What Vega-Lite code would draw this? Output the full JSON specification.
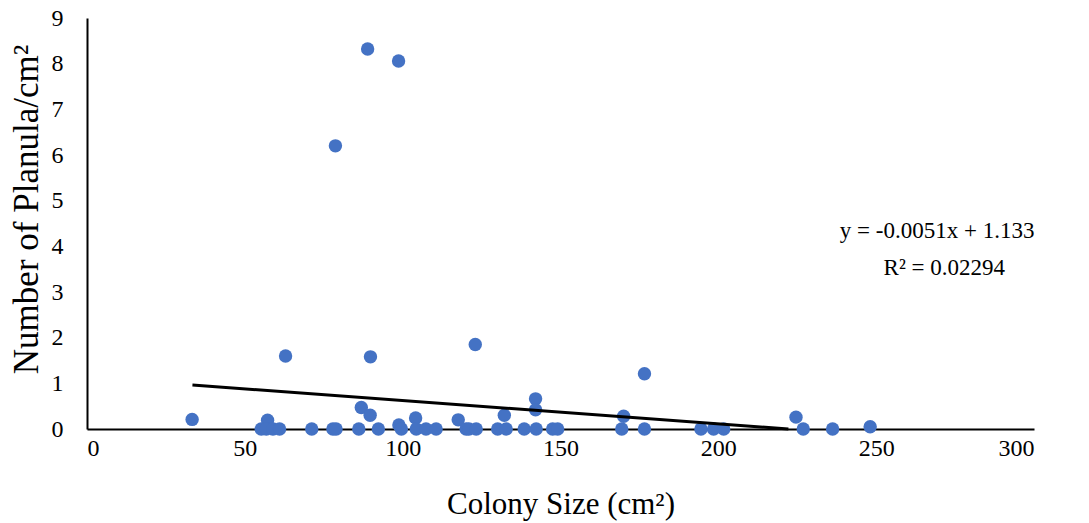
{
  "$schema": "https://vega.github.io/schema/vega-lite/v6.json",
  "width": 947,
  "height": 411,
  "autosize": {"type": "none"},
  "padding": {"left": 87, "top": 18, "right": 55, "bottom": 94},
  "background": "white",
  "config": {"view": {"stroke": null}, "font": "Liberation Serif"},
  "datasets": {
    "pts": [
      {"size": 88.9, "planula": 8.32},
      {"size": 98.7, "planula": 8.06},
      {"size": 78.7, "planula": 6.2},
      {"size": 62.9, "planula": 1.6},
      {"size": 89.8, "planula": 1.58},
      {"size": 123.0, "planula": 1.85},
      {"size": 176.6, "planula": 1.21},
      {"size": 142.1, "planula": 0.66},
      {"size": 142.1, "planula": 0.42},
      {"size": 33.3, "planula": 0.21},
      {"size": 57.2, "planula": 0.19},
      {"size": 86.9, "planula": 0.47},
      {"size": 89.7, "planula": 0.3},
      {"size": 98.8, "planula": 0.09},
      {"size": 104.1, "planula": 0.24},
      {"size": 117.6, "planula": 0.2},
      {"size": 132.2, "planula": 0.3},
      {"size": 170.0, "planula": 0.28},
      {"size": 224.6, "planula": 0.26},
      {"size": 248.1, "planula": 0.05},
      {"size": 55.2, "planula": 0},
      {"size": 56.8, "planula": 0},
      {"size": 58.9, "planula": 0},
      {"size": 61.0, "planula": 0},
      {"size": 71.2, "planula": 0},
      {"size": 77.9, "planula": 0},
      {"size": 78.9, "planula": 0},
      {"size": 86.1, "planula": 0},
      {"size": 92.3, "planula": 0},
      {"size": 99.6, "planula": 0},
      {"size": 104.3, "planula": 0},
      {"size": 107.4, "planula": 0},
      {"size": 110.6, "planula": 0},
      {"size": 120.1, "planula": 0},
      {"size": 121.0, "planula": 0},
      {"size": 123.3, "planula": 0},
      {"size": 130.1, "planula": 0},
      {"size": 132.8, "planula": 0},
      {"size": 138.5, "planula": 0},
      {"size": 142.3, "planula": 0},
      {"size": 147.5, "planula": 0},
      {"size": 149.1, "planula": 0},
      {"size": 169.4, "planula": 0},
      {"size": 176.6, "planula": 0},
      {"size": 194.5, "planula": 0},
      {"size": 198.5, "planula": 0},
      {"size": 201.7, "planula": 0},
      {"size": 226.9, "planula": 0},
      {"size": 236.2, "planula": 0}
    ],
    "trend": [
      {"size": 33.4, "planula": 0.963},
      {"size": 222.2, "planula": 0}
    ],
    "labels": [
      {"size": 269.3, "planula": 4.34, "text": "y = -0.0051x + 1.133"},
      {"size": 271.6, "planula": 3.53, "text": "R² = 0.02294"}
    ]
  },
  "layer": [
    {
      "data": {"name": "pts"},
      "mark": {"type": "point", "filled": true, "opacity": 1, "color": "#4472C4", "size": 180},
      "encoding": {
        "x": {
          "field": "size", "type": "quantitative",
          "scale": {"domain": [0, 300], "nice": false, "zero": true},
          "axis": {
            "values": [0, 50, 100, 150, 200, 250, 300],
            "title": "Colony Size (cm²)",
            "titleFont": "Liberation Serif", "titleFontSize": 31, "titleFontWeight": "normal", "titleColor": "#000000",
            "titlePadding": 29,
            "labelFont": "Liberation Serif", "labelFontSize": 24, "labelColor": "#000000",
            "labelPadding": 7,
            "ticks": false, "grid": false,
            "domainColor": "#000000", "domainWidth": 2
          }
        },
        "y": {
          "field": "planula", "type": "quantitative",
          "scale": {"domain": [0, 9], "nice": false},
          "axis": {
            "values": [0, 1, 2, 3, 4, 5, 6, 7, 8, 9],
            "title": "Number of Planula/cm²",
            "titleFont": "Liberation Serif", "titleFontSize": 35, "titleFontWeight": "normal", "titleColor": "#000000",
            "titlePadding": 7,
            "titleY": 191,
            "labelFont": "Liberation Serif", "labelFontSize": 24, "labelColor": "#000000",
            "labelPadding": 24,
            "ticks": false, "grid": false,
            "domainColor": "#000000", "domainWidth": 2
          }
        }
      }
    },
    {
      "data": {"name": "trend"},
      "mark": {"type": "line", "color": "#000000", "strokeWidth": 3},
      "encoding": {
        "x": {"field": "size", "type": "quantitative"},
        "y": {"field": "planula", "type": "quantitative"}
      }
    },
    {
      "data": {"name": "labels"},
      "mark": {"type": "text", "font": "Liberation Serif", "fontSize": 23, "color": "#000000", "align": "center", "baseline": "middle"},
      "encoding": {
        "x": {"field": "size", "type": "quantitative"},
        "y": {"field": "planula", "type": "quantitative"},
        "text": {"field": "text"}
      }
    }
  ]
}
